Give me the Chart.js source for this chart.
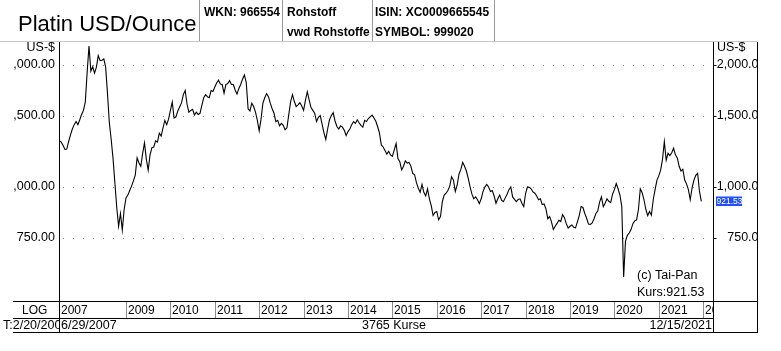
<!DOCTYPE html>
<html>
<head>
<meta charset="utf-8">
<script src="https://cdn.jsdelivr.net/npm/chart.js@4.4.1/dist/chart.umd.min.js"></script>
<style>
  html, body { margin: 0; padding: 0; background: #fff; }
  #wrap { width: 781px; height: 351px; position: relative; }
</style>
</head>
<body>
<div id="wrap"><canvas id="chart"></canvas></div>
<script>
// Platin USD/Ounce - half-monthly closes
// 2007 starts at the end of June (second half of the year only)
const platin2007 = [1300, 1290, 1265, 1238, 1240, 1295, 1345, 1390, 1425, 1450, 1425, 1465];
const platin2008 = [1510, 1545, 1620, 1920, 2228, 1930, 1980, 1910, 1975, 2110, 2050, 2055, 2070, 1975, 1700, 1440, 1310, 1175, 1023, 890, 800, 860, 783, 880];
const platin2009 = [940, 955, 980, 1005, 1035, 1070, 1180, 1146, 1125, 1210, 1285, 1170, 1100, 1200, 1250, 1255, 1300, 1290, 1357, 1335, 1400, 1460, 1425, 1470];
const platin2010 = [1545, 1620, 1480, 1490, 1540, 1575, 1612, 1690, 1730, 1600, 1530, 1545, 1555, 1505, 1530, 1510, 1520, 1590, 1660, 1690, 1670, 1660, 1730, 1720];
const platin2011 = [1765, 1805, 1835, 1795, 1790, 1705, 1790, 1800, 1830, 1790, 1790, 1735, 1695, 1750, 1790, 1845, 1890, 1810, 1560, 1540, 1610, 1580, 1530, 1460];
const platin2012 = [1375, 1470, 1610, 1660, 1700, 1670, 1610, 1560, 1520, 1450, 1460, 1415, 1435, 1420, 1385, 1400, 1510, 1624, 1690, 1625, 1580, 1595, 1615, 1585];
const platin2013 = [1545, 1635, 1718, 1640, 1570, 1545, 1520, 1450, 1485, 1500, 1430, 1360, 1310, 1390, 1465, 1500, 1525, 1455, 1410, 1390, 1415, 1405, 1380, 1340];
const platin2014 = [1370, 1390, 1425, 1450, 1435, 1465, 1440, 1420, 1405, 1460, 1450, 1475, 1490, 1505, 1480, 1455, 1410, 1360, 1270, 1255, 1230, 1205, 1225, 1200];
const platin2015 = [1190, 1235, 1280, 1175, 1155, 1102, 1125, 1160, 1145, 1150, 1125, 1080, 1072, 1025, 993, 970, 1015, 970, 950, 990, 935, 900, 850, 865];
const platin2016 = [870, 830, 845, 920, 955, 965, 980, 1005, 1060, 1040, 975, 1010, 1075, 1105, 1150, 1125, 1095, 1050, 1000, 960, 935, 945, 930, 910];
const platin2017 = [935, 975, 1000, 1015, 1000, 975, 980, 950, 912, 935, 955, 928, 920, 940, 960, 985, 1000, 945, 932, 920, 932, 935, 912, 895];
const platin2018 = [965, 1000, 998, 990, 972, 965, 950, 930, 935, 905, 908, 883, 835, 845, 820, 785, 800, 813, 828, 822, 855, 840, 812, 792];
const platin2019 = [800, 806, 795, 793, 820, 850, 895, 890, 860, 837, 810, 808, 815, 835, 860, 872, 918, 945, 894, 912, 935, 922, 915, 960];
const platin2020 = [985, 1020, 990, 955, 895, 600, 735, 760, 770, 785, 812, 825, 830, 880, 990, 968, 930, 880, 850, 870, 852, 930, 985, 1040];
const platin2021 = [1065, 1100, 1170, 1294, 1165, 1211, 1195, 1215, 1246, 1200, 1180, 1125, 1095, 1105, 1040, 1018, 985, 930, 995, 1040, 1068, 1081, 975, 921.53];

const seriesByYear = [platin2007, platin2008, platin2009, platin2010, platin2011, platin2012, platin2013,
  platin2014, platin2015, platin2016, platin2017, platin2018, platin2019, platin2020, platin2021];
const firstYear = 2007;

const priceTicks = [750, 1000, 1500, 2000];
const priceLabels = ["750.00", "1,000.00", "1,500.00", "2,000.00"];
const yearTicks = [2007.49, 2009, 2010, 2011, 2012, 2013, 2014, 2015, 2016, 2017, 2018, 2019, 2020, 2021, 2022];
const yearLabels = ["2007", "2009", "2010", "2011", "2012", "2013", "2014", "2015", "2016", "2017", "2018", "2019", "2020", "2021", "2022"];
const lastPrice = 921.53;

// build points: 24 slots a year, 2007 begins in slot 12 (July)
const points = [];
seriesByYear.forEach((vals, k) => {
  const offset = 24 - vals.length;
  vals.forEach((v, i) => {
    points.push({ x: firstYear + k + (offset + i) / 24, y: v });
  });
});

const FONT = "'Liberation Sans', Arial, sans-serif";

const frame = {
  id: "frame",
  beforeDatasetsDraw(chart) {
    const { ctx, chartArea: a, scales: { y } } = chart;
    ctx.save();
    ctx.strokeStyle = "#8a8a8a";
    ctx.lineWidth = 1;
    ctx.setLineDash([1, 9]);
    priceTicks.forEach((p) => {
      const py = Math.round(y.getPixelForValue(p)) + 0.5;
      ctx.beginPath();
      ctx.moveTo(a.left + 4, py);
      ctx.lineTo(a.right, py);
      ctx.stroke();
    });
    ctx.restore();
  },
  afterDraw(chart) {
    const { ctx, chartArea: a, scales: { x, y } } = chart;
    ctx.save();
    ctx.fillStyle = "#000";
    ctx.strokeStyle = "#000";
    ctx.lineWidth = 1;

    const line = (x1, y1, x2, y2, col) => {
      ctx.strokeStyle = col || "#000";
      ctx.beginPath();
      ctx.moveTo(x1, y1);
      ctx.lineTo(x2, y2);
      ctx.stroke();
    };

    // header
    line(0, 41.5, 758, 41.5, "#c8c8c8");
    [199.5, 282.5, 372.5, 494.5].forEach((sx) => line(sx, 0, sx, 41, "#999"));
    ctx.textBaseline = "alphabetic";
    ctx.textAlign = "left";
    ctx.font = "22px " + FONT;
    ctx.fillText("Platin USD/Ounce", 18, 31);
    ctx.font = "bold 12px " + FONT;
    ctx.fillText("WKN: 966554", 204, 16);
    ctx.fillText("Rohstoff", 287, 16);
    ctx.fillText("vwd Rohstoffe", 287, 36);
    ctx.fillText("ISIN: XC0009665545", 375, 16);
    ctx.fillText("SYMBOL: 999020", 375, 36);

    // axis frame
    const L = a.left + 0.5, R = a.right + 0.5, B = 301.5;
    line(L, 42, L, 333);
    line(R, 42, R, 333);
    line(757.5, 42, 757.5, 333);
    line(13, B, 758, B);
    line(13, 318.5, R, 318.5);
    line(13, 332.5, 758, 332.5);

    // price labels left (column starts at x=13) and right (ends at x=757)
    ctx.font = "12.5px " + FONT;
    ctx.textBaseline = "middle";
    ctx.textAlign = "right";
    ctx.save();
    ctx.beginPath();
    ctx.rect(13, 42, L - 13, 260);
    ctx.clip();
    ctx.fillText("US-$", 55, 48);
    priceTicks.forEach((p, i) => {
      ctx.fillText(priceLabels[i], 55, y.getPixelForValue(p));
    });
    ctx.restore();
    priceTicks.forEach((p) => {
      const py = Math.round(y.getPixelForValue(p)) + 0.5;
      line(R, py, R + 3, py);
    });
    ctx.save();
    ctx.beginPath();
    ctx.rect(R, 0, 757 - R, 351);
    ctx.clip();
    ctx.textAlign = "left";
    ctx.fillText("US-$", 717, 48);
    ctx.textAlign = "right";
    priceTicks.forEach((p, i) => {
      ctx.fillText(priceLabels[i], 765.5, y.getPixelForValue(p));
    });
    ctx.restore();

    // last price box
    const ly = y.getPixelForValue(lastPrice);
    ctx.fillStyle = "#1f4fff";
    ctx.fillRect(716, Math.round(ly) - 4.5, 26, 9.5);
    ctx.fillStyle = "#fff";
    ctx.font = "8.5px " + FONT;
    ctx.textAlign = "left";
    ctx.fillText(lastPrice.toFixed(2), 716.5, ly + 0.5);

    // year row
    ctx.fillStyle = "#000";
    ctx.font = "12px " + FONT;
    ctx.fillText("LOG", 22, 310.5);
    ctx.save();
    ctx.beginPath();
    ctx.rect(L, 300, R - L, 20);
    ctx.clip();
    yearTicks.forEach((t, i) => {
      const px = Math.round(x.getPixelForValue(t)) + 0.5;
      if (i > 0) line(px, 302, px, 318, "#8c8c8c");
      ctx.fillText(yearLabels[i], px + 1.5, 310.5);
    });
    ctx.restore();

    // bottom row
    ctx.font = "12.5px " + FONT;
    ctx.save();
    ctx.beginPath();
    ctx.rect(0, 318, L, 15);
    ctx.clip();
    ctx.fillText("T:2/20/2007", 3, 326);
    ctx.restore();
    ctx.fillText("6/29/2007", 61, 326);
    ctx.fillText("3765 Kurse", 362, 326);
    ctx.textAlign = "right";
    ctx.fillText("12/15/2021", 712, 326);

    // copyright / last close
    ctx.textAlign = "left";
    ctx.fillText("(c) Tai-Pan", 637, 276);
    ctx.fillText("Kurs:" + lastPrice.toFixed(2), 637, 293);
    ctx.restore();
  }
};

new Chart(document.getElementById("chart"), {
  type: "line",
  data: {
    datasets: [
      {
        label: "Platin USD/Ounce",
        data: points,
        borderColor: "#000",
        borderWidth: 1.1,
        pointRadius: 0,
        tension: 0,
        fill: false,
      },
    ],
  },
  options: {
    responsive: true,
    maintainAspectRatio: false,
    animation: false,
    devicePixelRatio: 1,
    layout: { padding: { left: 59, right: 68, top: 42, bottom: 50 } },
    scales: {
      x: { type: "linear", display: false, min: 2007.491, max: 2022.221, bounds: "data" },
      y: { type: "logarithmic", display: false, min: 523.2, max: 2279, bounds: "data" },
    },
    plugins: {
      legend: { display: false },
      tooltip: { enabled: false },
    },
  },
  plugins: [frame],
});
</script>
</body>
</html>
